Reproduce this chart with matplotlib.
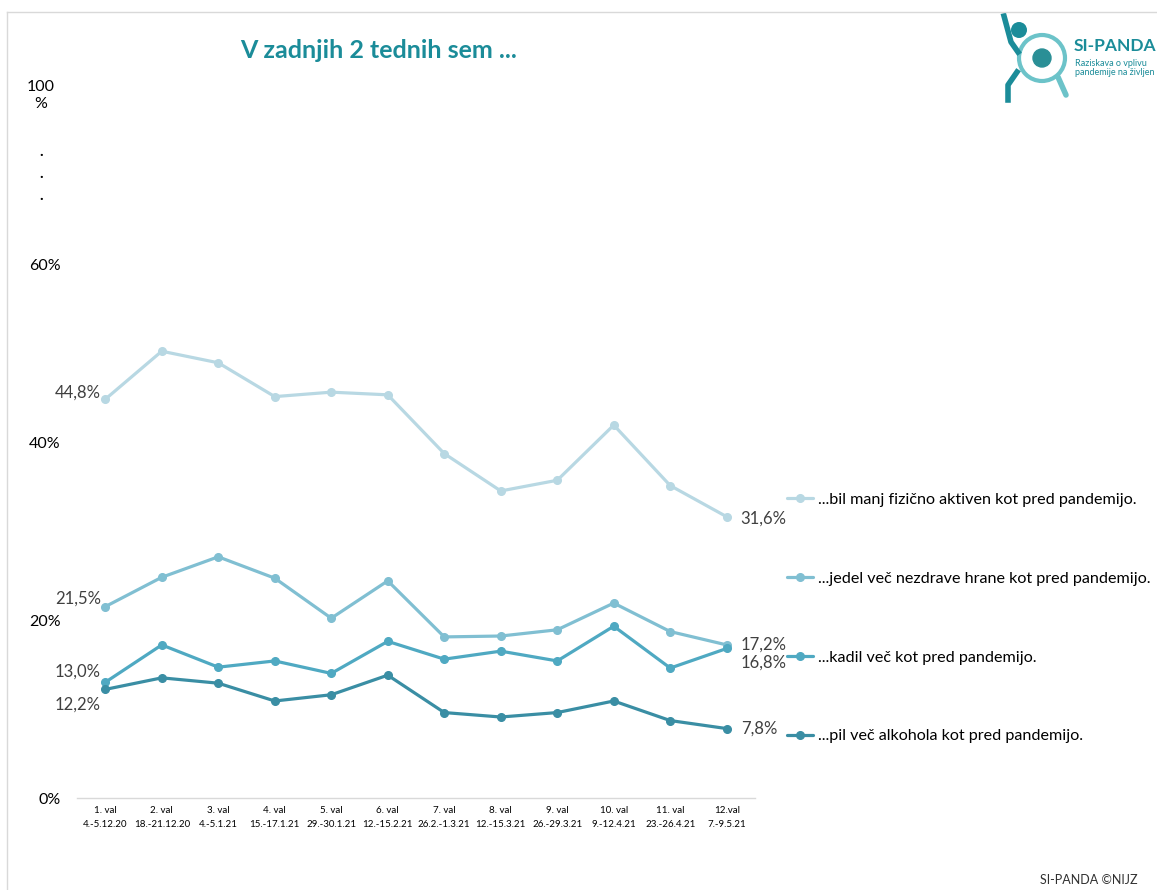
import matplotlib.pyplot as plt
from matplotlib.lines import Line2D
from matplotlib.patches import Circle

plt.rcParams["font.family"] = ["Lato", "DejaVu Sans"]

# --- data ---
waves = ["1. val", "2. val", "3. val", "4. val", "5. val", "6. val",
         "7. val", "8. val", "9. val", "10. val", "11. val", "12.val"]
dates = ["4.-5.12.20", "18.-21.12.20", "4.-5.1.21", "15.-17.1.21", "29.-30.1.21",
         "12.-15.2.21", "26.2.-1.3.21", "12.-15.3.21", "26.-29.3.21", "9.-12.4.21",
         "23.-26.4.21", "7.-9.5.21"]

less_active = [44.8, 50.2, 48.9, 45.1, 45.6, 45.3, 38.7, 34.5, 35.7, 41.9, 35.1, 31.6]
junk_food = [21.5, 24.8, 27.1, 24.7, 20.2, 24.4, 18.1, 18.2, 18.9, 21.9, 18.7, 17.2]
smoking = [13.0, 17.2, 14.7, 15.4, 14.0, 17.6, 15.6, 16.5, 15.4, 19.3, 14.6, 16.8]
alcohol = [12.2, 13.5, 12.9, 10.9, 11.6, 13.8, 9.6, 9.1, 9.6, 10.9, 8.7, 7.8]

series_labels = [
    "...bil manj fizično aktiven kot pred pandemijo.",
    "...jedel več nezdrave hrane kot pred pandemijo.",
    "...kadil več kot pred pandemijo.",
    "...pil več alkohola kot pred pandemijo.",
]
series_colors = ["#b8d8e3", "#80bfd2", "#4fa9c2", "#3a8ea4"]

TEAL = "#1b8c99"
GREY_TXT = "#404040"

fig = plt.figure(figsize=(11.57, 8.9), dpi=100)
ax = fig.add_axes([77 / 1157, 92 / 890, 678 / 1157, 712 / 890])

x = list(range(len(waves)))
lines = []
for vals, lab, col in zip([less_active, junk_food, smoking, alcohol],
                          series_labels, series_colors):
    (ln,) = ax.plot(x, vals, "-o", color=col, lw=2.3, ms=5.5, label=lab,
                    solid_capstyle="round", clip_on=False)
    lines.append(ln)


def pct(v: float) -> str:
    return f"{v:.1f}%".replace(".", ",")


# start / end data labels
lab_kw = dict(fontsize=12, color=GREY_TXT)
ax.annotate(pct(less_active[0]), (0, less_active[0]), xytext=(-3, 5),
            textcoords="offset points", ha="right", va="center", **lab_kw)
ax.annotate(pct(junk_food[0]), (0, junk_food[0]), xytext=(-3, 6),
            textcoords="offset points", ha="right", va="center", **lab_kw)
ax.annotate(pct(smoking[0]), (0, smoking[0]), xytext=(-3, 8),
            textcoords="offset points", ha="right", va="center", **lab_kw)
ax.annotate(pct(alcohol[0]), (0, alcohol[0]), xytext=(-3, -11),
            textcoords="offset points", ha="right", va="center", **lab_kw)
last = len(waves) - 1
ax.annotate(pct(less_active[-1]), (last, less_active[-1]), xytext=(10, -1),
            textcoords="offset points", ha="left", va="center", **lab_kw)
ax.annotate(pct(junk_food[-1]), (last, junk_food[-1]), xytext=(10, 0),
            textcoords="offset points", ha="left", va="center", **lab_kw)
ax.annotate(pct(smoking[-1]), (last, smoking[-1]), xytext=(10, -10),
            textcoords="offset points", ha="left", va="center", **lab_kw)
ax.annotate(pct(alcohol[-1]), (last, alcohol[-1]), xytext=(10, 0),
            textcoords="offset points", ha="left", va="center", **lab_kw)

# axes styling
ax.set_xlim(-0.5, len(waves) - 0.5)
ax.set_ylim(0, 80)
ax.set_xticks(x)
ax.set_xticklabels([f"{w}\n{d}" for w, d in zip(waves, dates)],
                   fontsize=7, linespacing=1.6)
ax.set_yticks([0, 20, 40, 60])
ax.set_yticklabels(["0%", "20%", "40%", "60%"], fontsize=11.5, color="black")
ax.tick_params(axis="both", length=0)
ax.tick_params(axis="y", pad=12)
ax.tick_params(axis="x", pad=6)
for s in ["top", "right", "left"]:
    ax.spines[s].set_visible(False)
ax.spines["bottom"].set_color("#d9d9d9")
ax.spines["bottom"].set_linewidth(1)

# broken-axis hint at the top of the y axis
ytxt = ax.get_yaxis_transform()
ax.text(-0.053, 78.9, "100\n%", transform=ytxt, ha="center", va="center",
        fontsize=11.5, linespacing=1.3, clip_on=False)
for yv in [71.8, 69.3, 66.8]:
    ax.text(-0.053, yv, ".", transform=ytxt, ha="center", va="bottom",
            fontsize=11, fontweight="bold", clip_on=False)

# legend on the right
fig.legend(handles=lines, loc="center left",
           bbox_to_anchor=(779 / 1157, 1 - 618 / 890),
           frameon=False, fontsize=11.6, labelspacing=4.0,
           handlelength=1.6, handletextpad=0.3, borderpad=0)

# title
fig.text(240 / 1157, 1 - 50 / 890, "V zadnjih 2 tednih sem ...", fontsize=18,
         fontweight="bold", color=TEAL, ha="left", va="center")

# logo (simplified)
lx, ly = 1042, 58
fig.add_artist(Circle((lx, 890 - ly), 23, transform=None, fill=False,
                      edgecolor="#6cc3c9", lw=3))
fig.add_artist(Circle((lx, 890 - ly), 9, transform=None, facecolor="#2a8f96",
                      edgecolor="#2a8f96"))
fig.add_artist(Line2D([1058 / 1157, 1066 / 1157], [1 - 77 / 890, 1 - 95 / 890],
                      color="#6cc3c9", lw=4, solid_capstyle="round"))
fig.add_artist(Circle((1019, 890 - 30), 8, transform=None, facecolor=TEAL,
                      edgecolor="none"))
fig.add_artist(Line2D([1004 / 1157, 1011 / 1157, 1018 / 1157],
                      [1 - 16 / 890, 1 - 42 / 890, 1 - 52 / 890],
                      color=TEAL, lw=4))
fig.add_artist(Line2D([1017 / 1157, 1008 / 1157, 1008 / 1157],
                      [1 - 72 / 890, 1 - 85 / 890, 1 - 100 / 890],
                      color=TEAL, lw=4))
fig.text(1074 / 1157, 1 - 46 / 890, "SI-PANDA", fontsize=12.5, fontweight="bold",
         color=TEAL, ha="left", va="center")
fig.text(1075 / 1157, 1 - 68 / 890, "Raziskava o vplivu\npandemije na življen",
         fontsize=6.5, color=TEAL, ha="left", va="center", linespacing=1.1)

# footer
fig.text(1040 / 1157, 1 - 880 / 890, "SI-PANDA ©NIJZ", fontsize=9,
         color="#303030", ha="left", va="center")

# slide frame
fig.add_artist(Line2D([7 / 1157, 1], [1 - 12 / 890, 1 - 12 / 890],
                      color="#d9d9d9", lw=1))
fig.add_artist(Line2D([7 / 1157, 7 / 1157], [0, 1 - 12 / 890],
                      color="#d9d9d9", lw=1))

fig.savefig("out.png", dpi=100)
